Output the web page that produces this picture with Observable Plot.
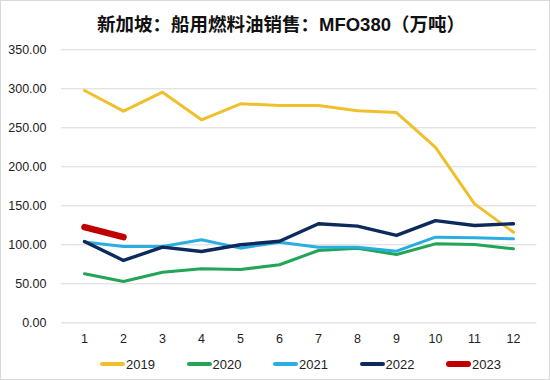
<!DOCTYPE html>
<html><head><meta charset="utf-8">
<script src="https://cdn.jsdelivr.net/npm/d3@7"></script>
<script src="https://cdn.jsdelivr.net/npm/@observablehq/plot@0.6"></script>
<style>
body{margin:0;background:#fff;}
#wrap{position:relative;width:550px;height:380px;box-sizing:border-box;border:1px solid #d9d9d9;font-family:"Liberation Sans",Arial,"Noto Sans CJK SC",sans-serif;color:#222;overflow:hidden;background:#fff}
#title{height:39px;line-height:47px;text-align:center;font-weight:bold;font-size:18.5px;padding-left:12px;white-space:nowrap;color:#111}
#chart svg{display:block}
#legend{position:absolute;left:99px;top:353px;display:flex;font-size:13px;height:20px;align-items:center}
.item{width:86.5px;display:flex;align-items:center}
.sw{width:25px;border-radius:3px;margin-right:1px}
</style></head>
<body>
<div id="wrap">
  <div id="title">新加坡：船用燃料油销售：MFO380（万吨）</div>
  <div id="chart"></div>
  <div id="legend"></div>
</div>
<script>
const months = [1,2,3,4,5,6,7,8,9,10,11,12];
const years = ["2019","2020","2021","2022","2023"];
const s2019 = [297.8,271.3,295.7,260.2,280.8,278.6,278.6,272,269.6,225,152.5,116];
const s2020 = [62.8,52.9,64.9,69.2,68.3,74.4,92.7,95.7,87.6,101.2,100.4,94.8];
const s2021 = [103.7,97.8,97.8,106.4,95.7,103.4,97,97,91.8,109.8,109,107.6];
const s2022 = [104.2,79.9,97,91.4,100,104.6,127,123.9,112,131,124.7,127];
const s2023 = [122.6,109.8];
const colors = ["#F0C02C","#22A556","#2AAEE0","#0C2A5C","#C00000"];
const widths = [3,3,3,3.4,6.5];
const yTicks = [0,50,100,150,200,250,300,350];

const seriesList = [s2019,s2020,s2021,s2022,s2023];
const data = [];
seriesList.forEach((s,i)=>s.forEach((v,j)=>data.push({year:years[i],month:months[j],value:v})));

const chart = Plot.plot({
  width:548, height:310,
  marginLeft:60, marginRight:12.5, marginTop:9.3, marginBottom:27.7,
  style:{fontFamily:'"Liberation Sans",Arial,sans-serif',fontSize:"12.5px",color:"#222",background:"transparent"},
  x:{type:"point",domain:months,padding:0.5,label:null,tickSize:0,tickPadding:11},
  y:{domain:[0,350],ticks:yTicks,label:null,tickSize:0,tickPadding:15,tickFormat:d3.format(".2f")},
  marks:[
    Plot.gridY(yTicks,{stroke:"#d9d9d9",strokeOpacity:1,strokeWidth:1}),
    Plot.axisX({tickSize:0,tickPadding:11,fontSize:12.5}),
    Plot.axisY({ticks:yTicks,tickSize:0,tickPadding:15,tickFormat:d3.format(".2f"),fontSize:12.5}),
    ...years.map((y,i)=>Plot.line(data.filter(d=>d.year===y),{x:"month",y:"value",stroke:colors[i],strokeWidth:widths[i],strokeLinejoin:"round",strokeLinecap:"round"}))
  ]
});
document.getElementById("chart").appendChild(chart);

const leg = document.getElementById("legend");
years.forEach((y,i)=>{
  const it=document.createElement("div");it.className="item";
  const sw=document.createElement("div");sw.className="sw";sw.style.background=colors[i];sw.style.height=(i===4?6:3.5)+"px";
  const t=document.createElement("span");t.textContent=y;
  it.appendChild(sw);it.appendChild(t);leg.appendChild(it);
});
</script>
</body></html>
